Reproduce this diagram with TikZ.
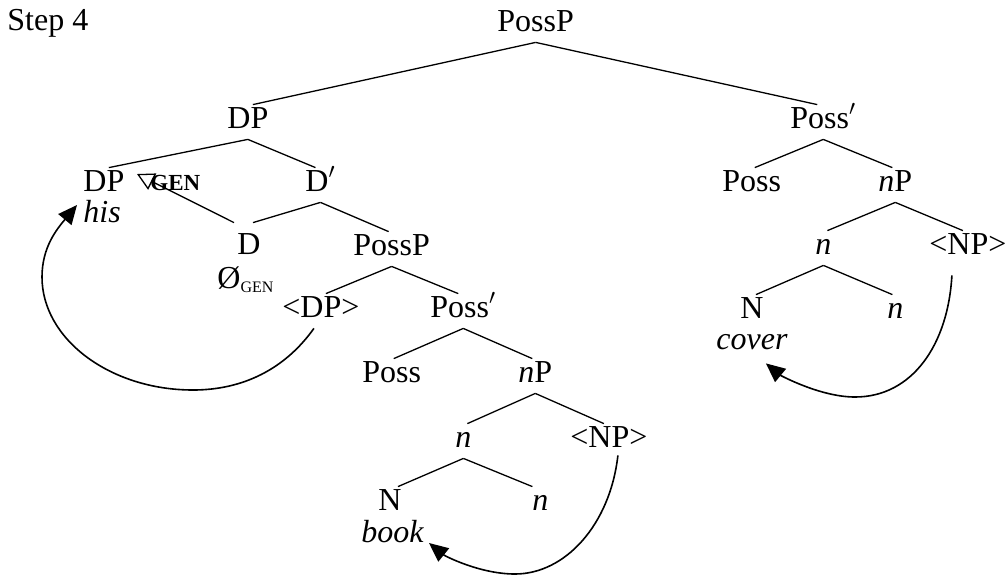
\documentclass[tikz,border=0pt]{standalone}
\usepackage{fontspec}
\setmainfont{Liberation Serif}
\usetikzlibrary{arrows.meta,calc}
\begin{document}
\begin{tikzpicture}[x=0.5pt,y=-0.5pt,
  lab/.style={anchor=base west, inner sep=0pt, text height=11.5pt, text depth=5.5pt, font=\fontsize{16}{19}\selectfont},
  word/.style={lab, font=\fontsize{16}{19}\selectfont\itshape},
  branch/.style={line width=0.65pt},
  movearrow/.style={line width=0.8pt, -{Triangle[length=9.5pt,width=8.5pt]}},
  genarrow/.style={line width=0.65pt, -{Triangle[open,length=8.5pt,width=9pt]}},
]
\useasboundingbox (0,0) rectangle (1006,580);
% labels
\node[lab] (step) at (7,30) {Step 4};
\node[lab] (top) at (497,31) {PossP};
\node[lab] (dpA) at (227,128) {DP};
\node[lab] (pbA) at (790,128) {Poss$'$};
\node[lab] (dpB) at (83,191) {DP};
\node[word] (his) at (83,222) {his};
\node[lab, font=\fontsize{11.5}{13}\selectfont\bfseries] (gen) at (150,190) {GEN};
\node[lab] (dbar) at (305,191) {D$'$};
\node[lab] (d) at (237,254) {D};
\node[lab] (null) at (217,288) {Ø\raisebox{-2pt}{\fontsize{8}{9}\selectfont GEN}};
\node[lab] (ppB) at (353,255) {PossP};
\node[lab] (dpt) at (282,317) {<DP>};
\node[lab] (pbB) at (430,317) {Poss$'$};
\node[lab] (possB) at (362,382) {Poss};
\node[lab] (npB) at (518,382) {\textit{n}P};
\node[lab] (nB) at (455,447) {\textit{n}};
\node[lab] (nptB) at (570,447) {<NP>};
\node[lab] (NB) at (378,510) {N};
\node[lab] (nBb) at (532,510) {\textit{n}};
\node[word] (book) at (361,542) {book};
\node[lab] (possA) at (722,191) {Poss};
\node[lab] (npA) at (878,191) {\textit{n}P};
\node[lab] (nA) at (815,254) {\textit{n}};
\node[lab] (nptA) at (929,254) {<NP>};
\node[lab] (NA) at (740,318) {N};
\node[lab] (nAb) at (887,318) {\textit{n}};
\node[word] (cover) at (716,349) {cover};
\coordinate (gentip) at (137,174);
% branches
\draw[branch] (top.south) -- ([xshift=2.5pt]dpA.north);
\draw[branch] (top.south) -- ([xshift=-3pt]pbA.north);
\draw[branch] (dpA.south) -- ([xshift=2.5pt]dpB.north);
\draw[branch] (dpA.south) -- ([xshift=-2.5pt]dbar.north);
\draw[branch] (dbar.south) -- ([xshift=2pt,yshift=4pt]d.north);
\draw[branch] (dbar.south) -- ([xshift=-1.5pt]ppB.north);
\draw[branch] (ppB.south) -- ([xshift=2.5pt]dpt.north);
\draw[branch] (ppB.south) -- ([xshift=-2.5pt]pbB.north);
\draw[branch] (pbB.south) -- ([xshift=1pt]possB.north);
\draw[branch] (pbB.south) -- ([xshift=-1.5pt]npB.north);
\draw[branch] (npB.south) -- ([xshift=2pt]nB.north);
\draw[branch] (npB.south) -- ([xshift=-2.5pt]nptB.north);
\draw[branch] (nB.south) -- ([xshift=4pt]NB.north);
\draw[branch] (nB.south) -- ([xshift=-4pt]nBb.north);
\draw[branch] (pbA.south) -- ([xshift=1.5pt]possA.north);
\draw[branch] (pbA.south) -- ([xshift=-1.5pt]npA.north);
\draw[branch] (npA.south) -- ([xshift=2pt]nA.north);
\draw[branch] (npA.south) -- ([xshift=-2.5pt]nptA.north);
\draw[branch] (nA.south) -- ([xshift=2pt]NA.north);
\draw[branch] (nA.south) -- ([xshift=-1.5pt]nAb.north);
% GEN arrow
\draw[genarrow] ([xshift=-1.5pt,yshift=4pt]d.north west) -- (gentip);
% movement arrows
\draw[movearrow] ([xshift=-3.5pt]dpt.south)
  .. controls (285,369) and (243,390) .. (193,390)
  .. controls (110,390) and (42,339) .. (42,277)
  .. controls (42,247) and (57,229) .. ([xshift=-3pt,yshift=5.5pt]his.west);
\draw[movearrow] ([xshift=4.5pt,yshift=1.5pt]nptB.south)
  .. controls (610,525) and (565,574) .. (515,574)
  .. controls (480,574) and (445,556) .. ([xshift=2.5pt,yshift=-3.5pt]book.east);
\draw[movearrow] ([xshift=-8pt,yshift=-5pt]nptA.south)
  .. controls (948,345) and (912,397) .. (855,397)
  .. controls (820,397) and (780,375) .. ([xshift=7pt,yshift=-1.5pt]cover.south);
\end{tikzpicture}
\end{document}
